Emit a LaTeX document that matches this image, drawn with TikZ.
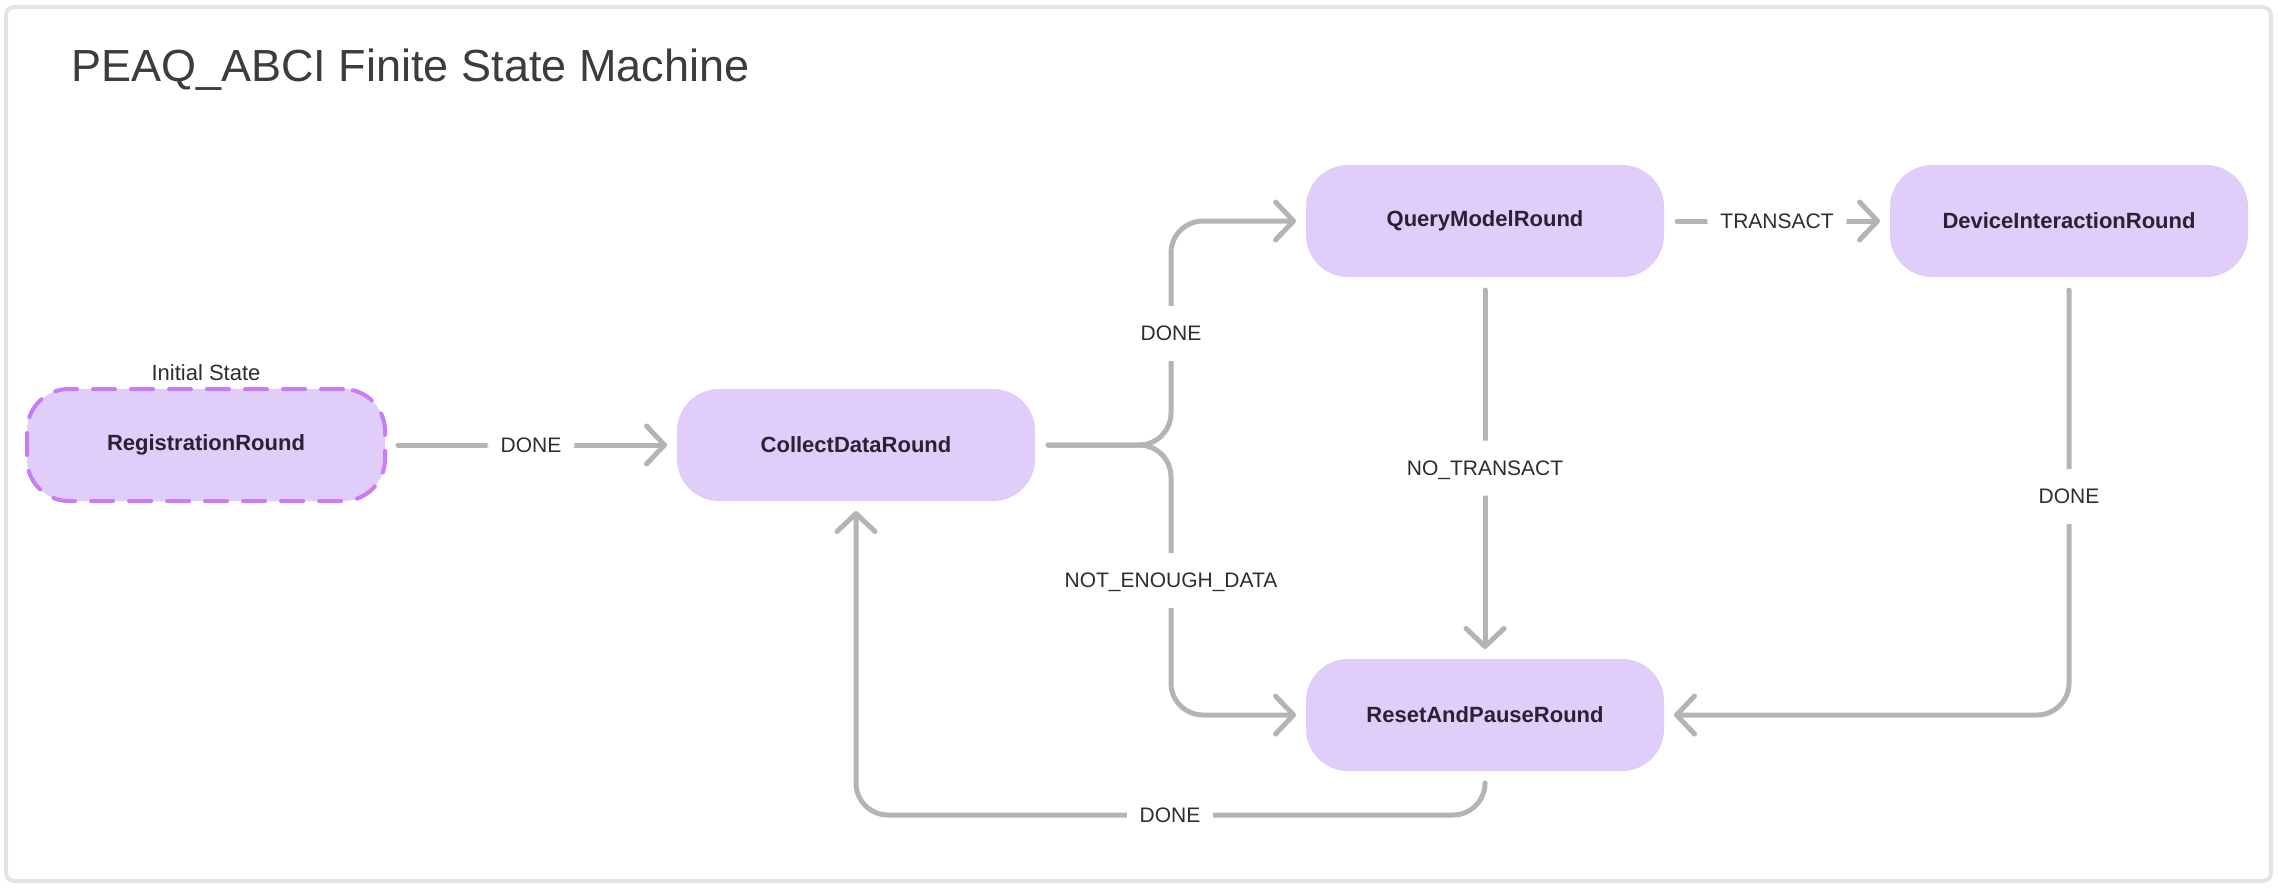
\documentclass[tikz,border=0pt]{standalone}
\usepackage{fontspec}
\setmainfont{Liberation Sans}
\usetikzlibrary{positioning,calc,arrows.meta}
\definecolor{statefill}{HTML}{E0CDFA}
\definecolor{initborder}{HTML}{C87CF8}
\definecolor{edgegray}{HTML}{B4B4B4}
\definecolor{labeltext}{HTML}{2E2E2E}
\definecolor{nodetext}{HTML}{2A2233}
\definecolor{titletext}{HTML}{3C3C3C}
\definecolor{framegray}{HTML}{E4E4E4}
\tikzset{
  state/.style={fill=statefill, rounded corners=21pt, minimum width=179pt, minimum height=56pt,
    inner sep=0pt, outer sep=0pt, text=nodetext, font=\fontsize{11}{13}\selectfont\bfseries},
  initial state/.style={draw=initborder, line width=2pt, dash pattern=on 11pt off 8pt, line cap=round},
  transition/.style={draw=edgegray, line width=2.5pt, line cap=round, line join=round,
    rounded corners=16pt, shorten <=6.5pt, shorten >=5pt,
    -{Straight Barb[length=9pt, width=19pt, round]}},
  trigger/.style={fill=white, text=labeltext, font=\fontsize{10.5}{12}\selectfont,
    inner xsep=6.5pt, inner ysep=10pt, text height=7.5pt, text depth=0pt}
}
\begin{document}
\begin{tikzpicture}[x=0.5pt, y=-0.5pt]
  \useasboundingbox (0,0) rectangle (2278,890);
  \draw[framegray, line width=2pt, rounded corners=4pt, fill=white] (6,7) rectangle (2271,881);
  \node (title) [anchor=base west, inner sep=0pt, text=titletext, font=\fontsize{22.5}{27}\selectfont]
    at (71,81) {PEAQ\_ABCI Finite State Machine};

  % states
  \node (reg) [state, initial state] at (206,445) {RegistrationRound};
  \node (init) [above=4pt of reg, inner sep=0pt, text=labeltext, font=\fontsize{11}{13}\selectfont] {Initial State};
  \node (collect) [state, right=146pt of reg] {CollectDataRound};
  \node (query) [state] at (1485,221) {QueryModelRound};
  \node (device) [state, right=113pt of query] {DeviceInteractionRound};
  \node (reset) [state, below=191pt of query] {ResetAndPauseRound};

  \coordinate (fork) at (1171,445);
  \coordinate (back) at (1170,815);

  % transitions
  \draw[transition] (reg) -- node[trigger] (t1) {DONE} (collect);
  \draw[transition] (collect.east) -- (fork) |- (query.west);
  \draw[transition] (collect.east) -- (fork) |- (reset.west);
  \draw[transition] (query) -- node[trigger] (t4) {TRANSACT} (device);
  \draw[transition] (query) -- node[trigger] (t5) {NO\_TRANSACT} (reset);
  \draw[transition] (device.south) |- (reset.east);
  \draw[transition] (reset.south) |- (back) -| (collect.south);

  \node (t2) [trigger] at ($(fork)!0.5!(fork |- query.west)$) {DONE};
  \node (t3) [trigger] at ($(fork)!0.5!(fork |- reset.west)$) {NOT\_ENOUGH\_DATA};
  \node (t6) [trigger] at ($(device.south)!0.5!(device.south |- reset.east)$) {DONE};
  \node (t7) [trigger] at (back) {DONE};
\end{tikzpicture}
\end{document}
